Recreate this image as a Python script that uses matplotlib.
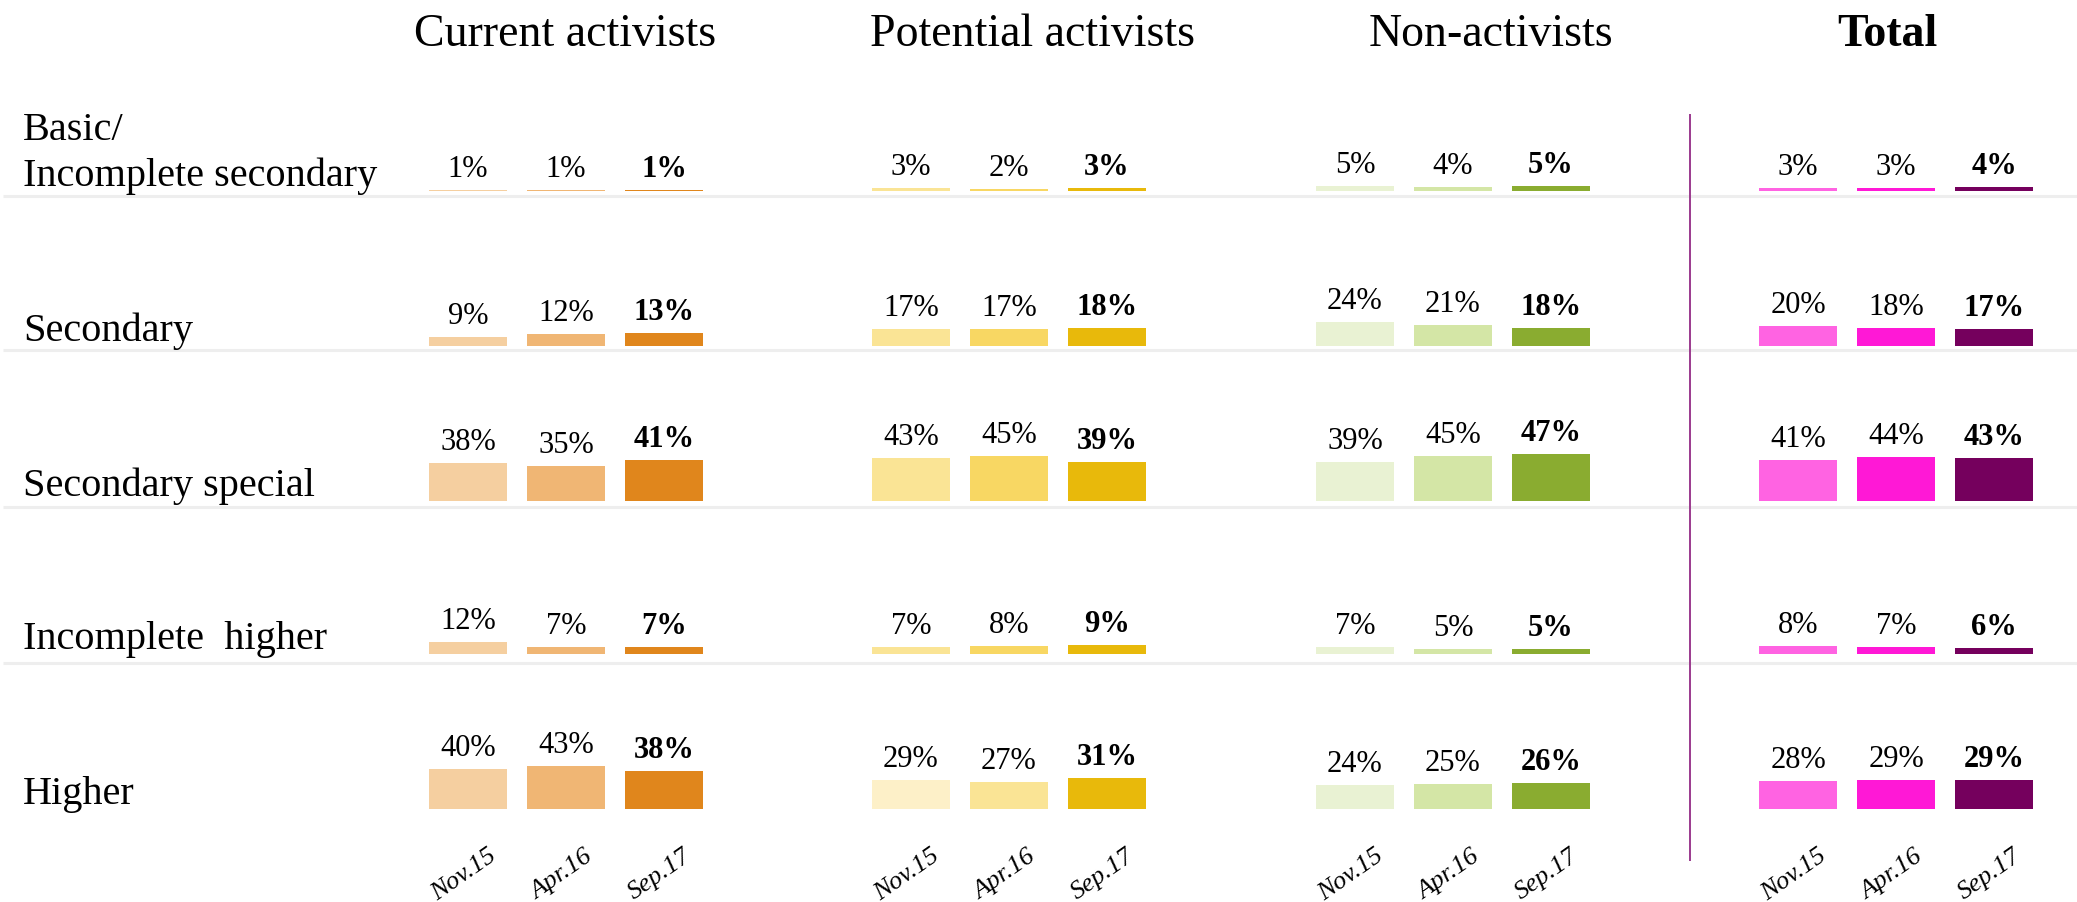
import matplotlib
matplotlib.use('Agg')
import matplotlib.pyplot as plt

matplotlib.rcParams['font.family'] = 'Liberation Serif'

# column groups, rows (education level) and survey waves
groups = ['Current activists', 'Potential activists', 'Non-activists', 'Total']
levels = ['Basic/\nIncomplete secondary', 'Secondary', 'Secondary special',
          'Incomplete  higher', 'Higher']
periods = ['Nov.15', 'Apr.16', 'Sep.17']

# values in %, one row per education level, one column per wave
current = [[1, 1, 1], [9, 12, 13], [38, 35, 41], [12, 7, 7], [40, 43, 38]]
potential = [[3, 2, 3], [17, 17, 18], [43, 45, 39], [7, 8, 9], [29, 27, 31]]
non_activists = [[5, 4, 5], [24, 21, 18], [39, 45, 47], [7, 5, 5], [24, 25, 26]]
total = [[3, 3, 4], [20, 18, 17], [41, 44, 43], [8, 7, 6], [28, 29, 29]]
data = [current, potential, non_activists, total]

colors_current = ['#F5CFA0', '#F0B674', '#E0861C']
colors_potential = ['#FAE495', '#F8D763', '#E8B90B']
colors_potential_higher = ['#FDF0C8', '#FAE495', '#E8B90B']
colors_non = ['#E9F2D3', '#D4E6A6', '#8AAC30']
colors_total = ['#FF63E2', '#FF18D6', '#75005D']

# layout (pixel units of the 2077x902 canvas)
W, H = 2077, 902
col_centers = [566, 1009, 1453, 1896]
title_x = [565, 1032, 1491, 1887]
bar_step = 98
bar_w = 78
row_base = [191, 346, 501, 654, 809]
sep_y = [196, 350, 507, 663]
px_per_pct = 1.0
divider_x = 1690


def main():
    fig = plt.figure(figsize=(W / 100, H / 100), dpi=100)
    ax = fig.add_axes([0, 0, 1, 1])
    ax.set_xlim(0, W)
    ax.set_ylim(H, 0)
    ax.axis('off')

    # light separators between rows
    ax.hlines(sep_y, 3, W, color='#EEEEEE', lw=2.2, zorder=0)
    # divider before the Total column
    ax.vlines(divider_x, 114, 861, color='#9B3A8E', lw=1.4)

    for g, name in enumerate(groups):
        ax.text(title_x[g], 46, name, ha='center', va='baseline', fontsize=33,
                fontweight='bold' if name == 'Total' else 'normal')
        for r in range(len(levels)):
            vals = data[g][r]
            if g == 0:
                cols = colors_current
            elif g == 1:
                cols = colors_potential_higher if r == 4 else colors_potential
            elif g == 2:
                cols = colors_non
            else:
                cols = colors_total
            xs = [col_centers[g] + (i - 1) * bar_step for i in range(3)]
            heights = [-v * px_per_pct for v in vals]
            ax.bar(xs, heights, width=bar_w, bottom=row_base[r], color=cols, zorder=2)
            for i, v in enumerate(vals):
                ax.text(xs[i], row_base[r] - v * px_per_pct - 13, f'{v}%',
                        ha='center', va='baseline', fontsize=22,
                        fontweight='bold' if i == 2 else 'normal')
        # wave labels under each group
        for i, p in enumerate(periods):
            ax.text(col_centers[g] + (i - 1) * bar_step - 4, 875, p, rotation=35,
                    rotation_mode='anchor', ha='center', va='center',
                    fontsize=19, style='italic')

    # row labels (baseline of the last line sits just above the bars)
    for r, lab in enumerate(levels):
        ax.text(23, row_base[r] - 5, lab, ha='left', va='baseline',
                fontsize=29, linespacing=1.3)

    fig.savefig('out.png', dpi=100)


if __name__ == '__main__':
    main()
